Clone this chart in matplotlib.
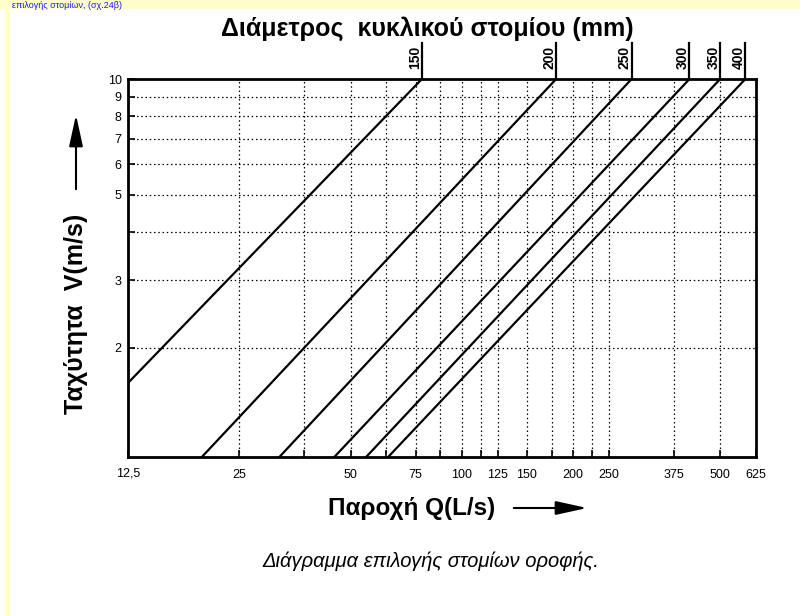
import numpy as np
import matplotlib
matplotlib.use('Agg')
from matplotlib import pyplot as plt
from matplotlib.patches import Rectangle
from matplotlib.ticker import NullFormatter
import matplotlib.transforms as mtransforms

plt.rcParams['font.family'] = ['Liberation Sans', 'DejaVu Sans']

# ---- data ----
q_ticks = [12.5, 25, 50, 75, 100, 125, 150, 200, 250, 375, 500, 625]
q_tick_labels = ['12,5', '25', '50', '75', '100', '125', '150', '200', '250', '375', '500', '625']
q_grid = [25, 37.5, 50, 62.5, 75, 87.5, 100, 112.5, 125, 150, 175, 200, 225, 250, 375, 500]
v_ticks = [2, 3, 4, 5, 6, 7, 8, 9, 10]
v_tick_labels = ['2', '3', '', '5', '6', '7', '8', '9', '10']

diameters = [150, 200, 250, 300, 350, 400]
q_low = [12.5, 19.8, 32.1, 45.2, 55.1, 63.2]
v_low = [1.62, 1.04, 1.04, 1.04, 1.04, 1.04]
q_high = [78, 180, 288, 413, 500, 585]
v_high = [10, 10, 10, 10, 10, 10]

fig = plt.figure(figsize=(8, 6.16), dpi=100)

# yellow page border strips + small blue line of text at top
fig.patches.append(Rectangle((0, 1 - 8/616.), 1, 8/616., transform=fig.transFigure,
                             color='#ffffcc', zorder=0))
fig.patches.append(Rectangle((5/800., 0), 4/800., 1, transform=fig.transFigure,
                             color='#ffffcc', zorder=0))
fig.text(12/800., 1 - 0.5/616., 'επιλογής στομίων, (σχ.24β)', color='#1a1aff',
         fontsize=6.5, va='top', ha='left')

ax = fig.add_axes([128/800., 159/616., 628/800., 378/616.])
ax.set_xscale('log')
ax.set_yscale('log')
ax.set_xlim(12.5, 625)
ax.set_ylim(1.04, 10)

for q in q_grid:
    ax.axvline(q, color='black', linestyle=(0, (1.2, 2.2)), linewidth=0.9, zorder=1)
for v in v_ticks[:-1]:
    ax.axhline(v, color='black', linestyle=(0, (1.2, 2.2)), linewidth=0.9, zorder=1)

for d, q0, v0, q1, v1 in zip(diameters, q_low, v_low, q_high, v_high):
    ax.plot([q0, q1], [v0, v1], color='black', linewidth=1.6, zorder=3)
    # tick going up from the top edge with the diameter label
    ax.plot([q1, q1], [1.0, 1.095], color='black', linewidth=1.6,
            transform=ax.get_xaxis_transform(), clip_on=False)
    ax.annotate(str(d), xy=(q1, 1.058), xycoords=ax.get_xaxis_transform(),
                xytext=(-5, 0), textcoords='offset points', rotation=90,
                ha='center', va='center', fontsize=10, fontweight='bold')

ax.set_xticks(q_ticks)
ax.set_xticklabels(q_tick_labels)
ax.set_xticks([q for q in q_grid if q not in q_ticks], minor=True)
ax.xaxis.set_minor_formatter(NullFormatter())
ax.set_yticks(v_ticks)
ax.set_yticklabels(v_tick_labels)
ax.set_yticks([], minor=True)
ax.tick_params(axis='both', which='both', direction='in', length=5, width=1.2,
               labelsize=9)
ax.tick_params(axis='x', pad=9)
ax.tick_params(axis='y', pad=4.5)

# the comma label sits a touch low, lift it onto the same line as the others
lift = mtransforms.ScaledTranslation(0, 1.5/100., fig.dpi_scale_trans)
first = ax.get_xticklabels()[0]
first.set_transform(first.get_transform() + lift)

for sp in ax.spines.values():
    sp.set_linewidth(2)

fig.text(427/800., 1 - 29/616., 'Διάμετρος  κυκλικού στομίου (mm)', ha='center',
         va='center', fontsize=18, fontweight='bold')
fig.text(76/800., 1 - 314/616., 'Ταχύτητα  V(m/s)', rotation=90, ha='center',
         va='center', fontsize=18, fontweight='bold')
fig.text(412/800., 1 - 508/616., 'Παροχή Q(L/s)', ha='center', va='center',
         fontsize=17.5, fontweight='bold')
fig.text(431/800., 1 - 561/616., 'Διάγραμμα επιλογής στομίων οροφής.', ha='center',
         va='center', fontsize=14.5, style='italic')

ax.annotate('', xy=(76/800., 1 - 112/616.), xycoords='figure fraction',
            xytext=(76/800., 1 - 192/616.), textcoords='figure fraction',
            arrowprops=dict(arrowstyle='-|>,head_length=1.6,head_width=0.35',
                            color='black', lw=1.5, mutation_scale=12))
ax.annotate('', xy=(590/800., 1 - 508/616.), xycoords='figure fraction',
            xytext=(511/800., 1 - 508/616.), textcoords='figure fraction',
            arrowprops=dict(arrowstyle='-|>,head_length=1.6,head_width=0.35',
                            color='black', lw=1.5, mutation_scale=12))

fig.savefig('out.png', dpi=100)
